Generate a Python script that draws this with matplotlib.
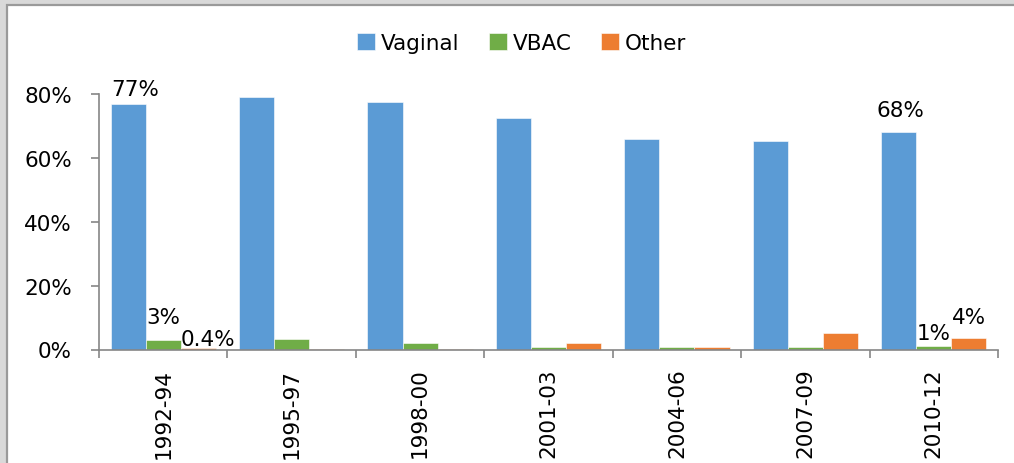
import matplotlib
matplotlib.use("Agg")
import matplotlib.pyplot as plt
from matplotlib.patches import Rectangle
import numpy as np

categories = ["1992-94", "1995-97", "1998-00", "2001-03", "2004-06", "2007-09", "2010-12"]
vaginal = [0.77, 0.79, 0.775, 0.725, 0.66, 0.653, 0.68]
vbac = [0.031, 0.032, 0.021, 0.007, 0.007, 0.007, 0.0125]
other = [0.004, 0.001, 0.002, 0.021, 0.008, 0.051, 0.0375]
series_names = ["Vaginal", "VBAC", "Other"]
colors = ["#5b9bd5", "#70ad47", "#ed7d31"]
yticks = [0, 0.2, 0.4, 0.6, 0.8]
ytick_labels = ["0%", "20%", "40%", "60%", "80%"]

# data labels: (series index, category index, text, dx px, dy px to baseline)
data_labels = [
    (0, 0, "77%", 7, 9),
    (1, 0, "3%", 0, 17),
    (2, 0, "0.4%", 10, 3),
    (0, 6, "68%", 2, 16),
    (1, 6, "1%", 0, 7),
    (2, 6, "4%", 0, 15),
]

FS = 15.5
W, H = 1014, 464
fig = plt.figure(figsize=(W / 100, H / 100), dpi=100, facecolor="#d9d9d9")
fig.patches.append(Rectangle((7 / W, -0.1), 1.2, (H - 6) / H + 0.1, transform=fig.transFigure,
                             facecolor="white", edgecolor="#9a9a9a", linewidth=1.6, zorder=-10))

ax = fig.add_axes([99 / W, 1 - 350.5 / H, (998 - 99) / W, (350.5 - 95) / H])
ax.set_facecolor("none")
ax.set_zorder(5)

x = np.arange(len(categories))
bw = 0.273
all_series = [vaginal, vbac, other]
for i, (vals, name, c) in enumerate(zip(all_series, series_names, colors)):
    ax.bar(x + (i - 1) * bw, vals, width=bw, color=c, label=name, edgecolor="white", linewidth=0.4)

for si, ci, txt, dx, dy in data_labels:
    ax.annotate(txt, (x[ci] + (si - 1) * bw, all_series[si][ci]), xytext=(dx, dy),
                textcoords="offset pixels", ha="center", va="baseline", fontsize=FS, color="black",
                annotation_clip=False)

ax.set_xlim(-0.5, len(categories) - 0.5)
ax.set_ylim(0, 0.8)
ax.set_yticks(yticks)
ax.set_yticklabels(ytick_labels, fontsize=FS)
ax.set_xticks(x)
ax.set_xticklabels(categories, rotation=90, fontsize=FS, va="top")
ax.set_xticks(np.arange(len(categories) + 1) - 0.5, minor=True)
ax.tick_params(axis="x", which="major", length=0, pad=13)
ax.tick_params(axis="x", which="minor", length=6, width=1.2, color="#868686", direction="out")
ax.tick_params(axis="y", length=6, width=1.2, color="#868686", direction="out", pad=13.5)
for s in ["top", "right"]:
    ax.spines[s].set_visible(False)
for s in ["left", "bottom"]:
    ax.spines[s].set_color("#868686")
    ax.spines[s].set_linewidth(1.2)

fig.legend(loc="center", bbox_to_anchor=(521.5 / W, 1 - 44 / H), ncol=3, frameon=False,
           prop={"family": "DejaVu Sans", "size": FS},
           handlelength=0.84, handleheight=0.84, handletextpad=0.28, columnspacing=1.35,
           borderpad=0, borderaxespad=0)

fig.savefig("out.png", dpi=100, facecolor=fig.get_facecolor())
